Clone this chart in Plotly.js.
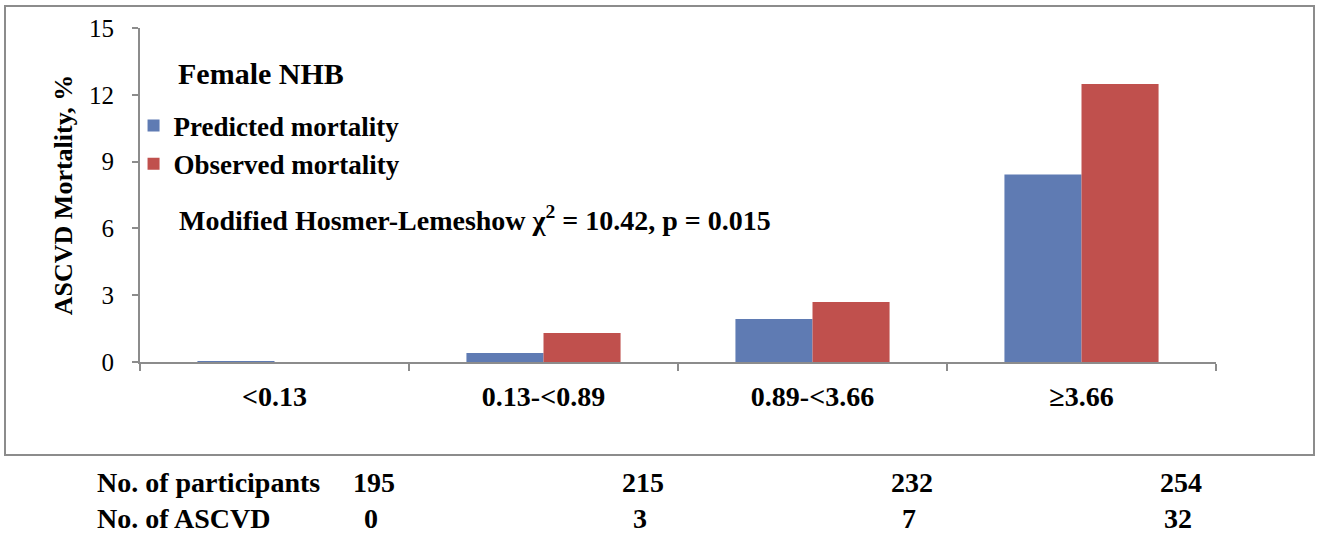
<!DOCTYPE html>
<html>
<head>
<meta charset="utf-8">
<script src="https://cdn.plot.ly/plotly-3.0.1.min.js"></script>
<style>
html,body{margin:0;padding:0;background:#fff;}
#chart{width:1319px;height:538px;}
</style>
</head>
<body>
<div id="chart"></div>
<script>
const categories = ["<0.13", "0.13-<0.89", "0.89-<3.66", "\u22653.66"];
const predicted = [0.05, 0.4, 1.93, 8.42];
const observed = [0, 1.3, 2.7, 12.48];
const participants = [195, 215, 232, 254];
const ascvdCounts = [0, 3, 7, 32];
const seriesNames = ["Predicted mortality", "Observed mortality"];
const yTicks = [0, 3, 6, 9, 12, 15];

const FONT = "Liberation Serif, Times New Roman, serif";
const BLUE = "#5F7BB3";
const RED = "#C0504D";
const AXIS = "#8c8c8c";

const traces = [
  {type: "bar", name: seriesNames[0], x: categories, y: predicted,
   marker: {color: BLUE, line: {width: 0}}, legendgroup: "a"},
  {type: "bar", name: seriesNames[1], x: categories, y: observed,
   marker: {color: RED, line: {width: 0}}, legendgroup: "b"}
];

const annotations = [
  {xref: "paper", yref: "paper", x: 0.033, y: 0.865, xanchor: "left", yanchor: "middle",
   text: "Female NHB", showarrow: false, font: {family: FONT, size: 30, color: "#000", weight: "bold"}},
  {xref: "paper", yref: "paper", x: 0.034, y: 0.431, xanchor: "left", yanchor: "middle",
   text: "Modified Hosmer-Lemeshow \u03c7<sup>2</sup> = 10.42, p = 0.015", showarrow: false,
   font: {family: FONT, size: 28, color: "#000", weight: "bold"}},
  {xref: "paper", yref: "paper", x: (95 - 140) / 1076, y: -0.362, xanchor: "left", yanchor: "middle",
   text: "No. of participants", showarrow: false, font: {family: FONT, size: 28, color: "#000", weight: "bold"}},
  {xref: "paper", yref: "paper", x: (95 - 140) / 1076, y: -0.468, xanchor: "left", yanchor: "middle",
   text: "No. of ASCVD", showarrow: false, font: {family: FONT, size: 28, color: "#000", weight: "bold"}}
];
categories.forEach((c, i) => {
  annotations.push({xref: "x", yref: "paper", x: c, y: -0.362, xshift: 99, xanchor: "center", yanchor: "middle",
    text: String(participants[i]), showarrow: false, font: {family: FONT, size: 28, color: "#000", weight: "bold"}});
  annotations.push({xref: "x", yref: "paper", x: c, y: -0.468, xshift: 96, xanchor: "center", yanchor: "middle",
    text: String(ascvdCounts[i]), showarrow: false, font: {family: FONT, size: 28, color: "#000", weight: "bold"}});
});

const layout = {
  width: 1319, height: 538,
  margin: {l: 140, r: 103, t: 28, b: 176},
  paper_bgcolor: "#fff", plot_bgcolor: "#fff",
  font: {family: FONT, color: "#000"},
  barmode: "group", bargap: 0.427, bargroupgap: 0,
  showlegend: true,
  legend: {x: -0.006, y: 0.78, xanchor: "left", yanchor: "top", bgcolor: "rgba(0,0,0,0)",
    font: {family: FONT, size: 27, color: "#000", weight: "bold"}, traceorder: "grouped", tracegroupgap: 0,
    itemwidth: 30},
  xaxis: {type: "category", range: [-0.5, 3.5], showline: true, linecolor: AXIS, linewidth: 2,
    ticks: "outside", tickson: "boundaries", ticklen: 7, tickcolor: AXIS, tickwidth: 2,
    showgrid: false, zeroline: false, ticklabelstandoff: 8,
    tickfont: {family: FONT, size: 28, color: "#000", weight: "bold"}, fixedrange: true},
  yaxis: {range: [0, 15], tickvals: yTicks, showline: true, linecolor: AXIS, linewidth: 2,
    ticks: "outside", ticklen: 6, tickcolor: AXIS, tickwidth: 2, showgrid: false, zeroline: false,
    ticklabelstandoff: 13, tickfont: {family: FONT, size: 25, color: "#000"},
    title: {text: "ASCVD Mortality, %", font: {family: FONT, size: 26, color: "#000", weight: "bold"}, standoff: 9},
    fixedrange: true},
  annotations: annotations,
  shapes: [
    {type: "rect", xref: "paper", yref: "paper",
     x0: (5 - 140) / 1076, x1: (1314 - 140) / 1076, y0: (362 - 455) / 334, y1: (362 - 6) / 334,
     line: {color: AXIS, width: 2}, fillcolor: "rgba(0,0,0,0)", layer: "below"}
  ]
};

Plotly.newPlot("chart", traces, layout, {displayModeBar: false, staticPlot: true});
</script>
</body>
</html>
